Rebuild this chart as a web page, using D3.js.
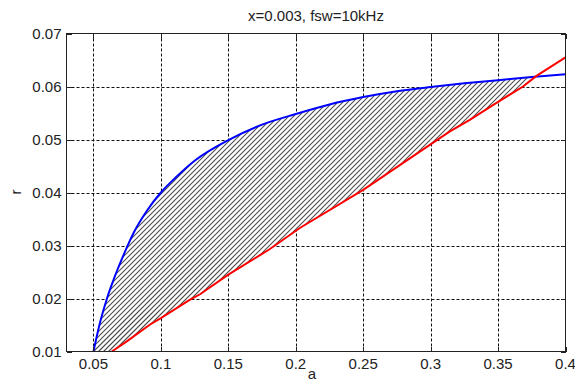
<!DOCTYPE html>
<html>
<head>
<meta charset="utf-8">
<script src="https://cdn.jsdelivr.net/npm/d3@7"></script>
<style>
  body { margin: 0; background: #fff; }
  text { font-family: Arial, "Liberation Sans", Helvetica, sans-serif; fill: #222; }
</style>
</head>
<body>
<svg id="chart" width="575" height="381"></svg>
<script>
// values
var blueA = [0.05, 0.055, 0.06, 0.065, 0.07, 0.075, 0.08, 0.09, 0.1, 0.11, 0.125, 0.15, 0.175, 0.2, 0.225, 0.25, 0.275, 0.3, 0.325, 0.35, 0.375, 0.4]
var blueR = [0.0100, 0.0156, 0.0200, 0.0236, 0.0268, 0.0298, 0.0325, 0.0367, 0.0400, 0.0426, 0.0460, 0.0499, 0.0528, 0.0548, 0.0566, 0.0580, 0.0591, 0.0599, 0.0606, 0.0612, 0.0618, 0.0623]
var redA = [0.0636, 0.0747, 0.092, 0.1, 0.1216, 0.129, 0.15, 0.18, 0.203, 0.25, 0.2994, 0.314, 0.329, 0.35, 0.3685, 0.3785, 0.4]
var redR = [0.0100, 0.0119, 0.0151, 0.0163, 0.0198, 0.0208, 0.0245, 0.0292, 0.0333, 0.0405, 0.0490, 0.0515, 0.0537, 0.0571, 0.0600, 0.0620, 0.0655]
var xTicks = [0.05, 0.1, 0.15, 0.2, 0.25, 0.3, 0.35, 0.4]
var yTicks = [0.01, 0.02, 0.03, 0.04, 0.05, 0.06, 0.07]
var titleText = 'x=0.003, fsw=10kHz'
var hatchEndA = 0.372  // hatch stops a bit before the crossing

var svg = d3.select('#chart')
var L = 66.5, R = 565.5, T = 33.5, B = 351.5

var x = d3.scaleLinear().domain([0.03, 0.4]).range([L, R])
var y = d3.scaleLinear().domain([0.01, 0.07]).range([B, T])

var blue = blueA.map((a, i) => [a, blueR[i]])
var red = redA.map((a, i) => [a, redR[i]])

// grid
var grid = svg.append('g').attr('stroke', '#111').attr('stroke-width', 1).attr('stroke-dasharray', '3,2')
grid.selectAll('.gx').data(xTicks.filter(t => t < 0.4)).enter().append('line')
  .attr('x1', d => Math.round(x(d)) + 0.5).attr('x2', d => Math.round(x(d)) + 0.5)
  .attr('y1', T).attr('y2', B)
grid.selectAll('.gy').data(yTicks.filter(t => t > 0.01 && t < 0.07)).enter().append('line')
  .attr('y1', d => Math.round(y(d)) + 0.5).attr('y2', d => Math.round(y(d)) + 0.5)
  .attr('x1', L).attr('x2', R)

// hatched region between the curves
var blueLine = d3.line().x(d => x(d[0])).y(d => y(d[1])).curve(d3.curveMonotoneX)
var redLine = d3.line().x(d => x(d[0])).y(d => y(d[1]))
var topPart = blue.filter(d => d[0] <= hatchEndA + 0.005)
var botPart = red.filter(d => d[0] <= hatchEndA).reverse()
var regionPath = blueLine(topPart) + 'L' + botPart.map(d => x(d[0]) + ',' + y(d[1])).join('L') + 'L' + x(blue[0][0]) + ',' + y(0.01) + 'Z'

svg.append('clipPath').attr('id', 'region').append('path').attr('d', regionPath)
svg.append('path').attr('d', regionPath).attr('fill', '#fff')

var hatchStep = 5
var hatch = svg.append('g').attr('clip-path', 'url(#region)')
  .attr('stroke', '#4a4a4a').attr('stroke-width', 1.1)
hatch.selectAll('line').data(d3.range(L + T, R + B + hatchStep, hatchStep)).enter().append('line')
  .attr('x1', c => c - T).attr('y1', T)
  .attr('x2', c => c - B).attr('y2', B)

// curves
svg.append('clipPath').attr('id', 'plot').append('rect')
  .attr('x', L).attr('y', T).attr('width', R - L).attr('height', B - T)
svg.append('path').attr('d', blueLine(blue)).attr('fill', 'none')
  .attr('stroke', '#0000ff').attr('stroke-width', 2).attr('clip-path', 'url(#plot)')
svg.append('path').attr('d', redLine(red)).attr('fill', 'none')
  .attr('stroke', '#ff0000').attr('stroke-width', 2).attr('clip-path', 'url(#plot)')

// axes box + inward ticks
var ax = svg.append('g').attr('stroke', '#222').attr('stroke-width', 1).attr('shape-rendering', 'crispEdges')
ax.append('rect').attr('x', L).attr('y', T).attr('width', R - L).attr('height', B - T).attr('fill', 'none')
var tk = 5
xTicks.forEach(t => {
  var px = Math.round(x(t)) + 0.5
  ax.append('line').attr('x1', px).attr('x2', px).attr('y1', B).attr('y2', B - tk)
  ax.append('line').attr('x1', px).attr('x2', px).attr('y1', T).attr('y2', T + tk)
})
yTicks.forEach(t => {
  var py = Math.round(y(t)) + 0.5
  ax.append('line').attr('y1', py).attr('y2', py).attr('x1', L).attr('x2', L + tk)
  ax.append('line').attr('y1', py).attr('y2', py).attr('x1', R).attr('x2', R - tk)
})

// tick labels
svg.selectAll('.xl').data(xTicks).enter().append('text')
  .attr('x', d => x(d)).attr('y', 369)
  .attr('text-anchor', 'middle').attr('font-size', 15)
  .text(d => d3.format('')(d))
svg.selectAll('.yl').data(yTicks).enter().append('text')
  .attr('x', L - 5).attr('y', d => y(d)).attr('dy', '0.36em')
  .attr('text-anchor', 'end').attr('font-size', 15)
  .text(d => d3.format('.2f')(d))

// titles
svg.append('text').attr('x', (L + R) / 2).attr('y', 21)
  .attr('text-anchor', 'middle').attr('font-size', 15).text(titleText)
svg.append('text').attr('x', 312).attr('y', 379)
  .attr('text-anchor', 'middle').attr('font-size', 15).text('a')
svg.append('text').attr('transform', 'translate(21,192) rotate(-90)')
  .attr('text-anchor', 'middle').attr('font-size', 15).text('r')
</script>
</body>
</html>
